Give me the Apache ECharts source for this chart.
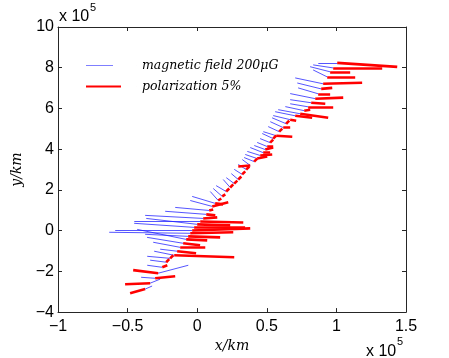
<!DOCTYPE html>
<html>
<head>
<meta charset="utf-8">
<script src="https://cdn.jsdelivr.net/npm/echarts@6/dist/echarts.min.js"></script>
<style>
  html, body { margin: 0; padding: 0; background: #fff; }
  #chart { width: 449px; height: 358px; }
</style>
</head>
<body>
<div id="chart"></div>
<script>
// sample points along the path (x, y in units of 1e5 km)
const sampleX = [-0.374, -0.338, -0.302, -0.280, -0.251, -0.223, -0.194, -0.165, -0.144, -0.122,
  -0.101, -0.079, -0.065, -0.050, -0.036, -0.022, 0.000, 0.022, 0.043, 0.065,
  0.086, 0.108, 0.129, 0.151, 0.180, 0.208, 0.237, 0.266, 0.295, 0.323,
  0.352, 0.381, 0.409, 0.431, 0.453, 0.474, 0.489, 0.503, 0.524, 0.546,
  0.568, 0.589, 0.618, 0.639, 0.668, 0.704, 0.740, 0.769, 0.797, 0.819,
  0.848, 0.869, 0.891, 0.905, 0.934, 0.955, 0.977, 1.006]
const sampleY = [-2.87, -2.58, -2.34, -2.09, -1.80, -1.55, -1.36, -1.21, -1.01, -0.82,
  -0.62, -0.43, -0.28, -0.13, 0.01, 0.16, 0.31, 0.45, 0.60, 0.80,
  0.99, 1.19, 1.34, 1.48, 1.68, 1.92, 2.12, 2.31, 2.51, 2.76,
  3.00, 3.20, 3.39, 3.54, 3.69, 3.83, 3.98, 4.13, 4.32, 4.52,
  4.66, 4.86, 5.06, 5.25, 5.45, 5.64, 5.74, 5.89, 6.08, 6.28,
  6.48, 6.72, 6.96, 7.21, 7.55, 7.80, 7.99, 8.24]

// magnetic field vectors (blue)
const fieldU = [0.050, 0.072, -0.101, 0.216, -0.108, -0.115, -0.165, -0.144, -0.122, -0.194,
  -0.259, -0.352, -0.309, -0.582, -0.553, -0.431, -0.366, -0.474, -0.417, -0.295,
  -0.244, -0.158, -0.165, -0.057, -0.065, -0.072, -0.050, -0.057, -0.050, -0.057,
  -0.057, -0.057, -0.072, -0.086, -0.093, -0.093, -0.079, -0.072, -0.072, -0.079,
  -0.093, -0.079, -0.093, -0.101, -0.122, -0.144, -0.158, -0.136, -0.129, -0.151,
  -0.180, -0.144, -0.172, -0.201, -0.101, -0.144, -0.144, -0.136]
const fieldV = [0.15, 0.20, 0.05, 0.39, 0.10, 0.10, 0.10, 0.20, 0.10, 0.25,
  0.29, 0.49, 0.10, 0.05, 0.00, 0.20, 0.29, 0.00, 0.15, 0.15,
  0.15, 0.29, 0.34, 0.44, 0.39, 0.29, 0.39, 0.29, 0.29, 0.25,
  0.25, 0.29, 0.20, 0.20, 0.20, 0.25, 0.20, 0.20, 0.20, 0.25,
  0.20, 0.25, 0.29, 0.29, 0.20, 0.20, 0.20, 0.20, 0.15, 0.15,
  0.25, 0.29, 0.29, 0.29, 0.34, 0.25, 0.15, 0.00]

// polarization vectors (red)
const polU = [-0.108, -0.180, 0.144, -0.180, 0.036, 0.022, 0.022, 0.431, 0.136, 0.180,
  0.122, 0.151, 0.230, 0.309, 0.417, 0.366, 0.237, 0.309, 0.101, 0.065,
  0.029, 0.115, 0.057, 0.022, 0.022, 0.022, 0.022, 0.022, 0.022, 0.022,
  0.022, -0.086, 0.022, 0.072, 0.086, 0.050, 0.057, 0.043, 0.022, 0.022,
  0.115, 0.022, 0.050, 0.022, 0.043, 0.122, 0.201, 0.043, 0.180, 0.101,
  0.201, 0.086, 0.079, 0.280, 0.201, 0.144, 0.352, 0.431]
const polV = [-0.20, -0.05, 0.10, 0.15, 0.10, 0.15, 0.15, -0.10, -0.10, 0.00,
  -0.10, -0.05, -0.05, 0.05, 0.10, 0.00, -0.05, -0.05, 0.05, -0.05,
  0.05, 0.20, -0.05, 0.10, 0.10, 0.15, 0.15, 0.15, 0.15, 0.15,
  0.15, -0.05, 0.15, 0.10, 0.05, 0.00, 0.10, 0.00, 0.15, 0.15,
  -0.05, 0.15, 0.00, 0.15, -0.05, -0.10, -0.20, 0.05, 0.00, -0.05,
  0.05, 0.00, 0.05, 0.05, 0.00, 0.00, 0.00, -0.20]

const xTicks = ['−1', '−0.5', '0', '0.5', '1', '1.5']
const yTicks = ['−4', '−2', '0', '2', '4', '6', '8', '10']
const seriesNames = ['magnetic field 200μG', 'polarization 5%']

const fieldSegs = sampleX.map((x, i) => ({
  coords: [[x, sampleY[i]], [x + fieldU[i], sampleY[i] + fieldV[i]]],
}))
const polSegs = sampleX.map((x, i) => ({
  coords: [[x, sampleY[i]], [x + polU[i], sampleY[i] + polV[i]]],
}))

const axisColor = '#262626'
const serifItalic = { fontFamily: 'DejaVu Serif', fontStyle: 'italic', color: '#000' }

function boxAxis(extra) {
  return Object.assign({
    type: 'value',
    axisLine: { show: true, onZero: false, lineStyle: { color: axisColor, width: 1 } },
    axisTick: { show: true, inside: true, length: 4, lineStyle: { color: axisColor } },
    splitLine: { show: false },
  }, extra)
}

const chart = echarts.init(document.getElementById('chart'))

chart.setOption({
  animation: false,
  backgroundColor: '#fff',
  grid: { left: 58, right: 43, top: 27, bottom: 45 },
  legend: [
    {
      data: [{ name: seriesNames[0], icon: 'path://M0,0H27V1H0Z M51,0H51.01V1H51Z', itemStyle: { color: '#7f7fff', borderWidth: 0 } }],
      left: 86, top: 59, padding: 0, itemWidth: 51, itemHeight: 1, selectedMode: false,
      textStyle: Object.assign({ fontSize: 12.5 }, serifItalic),
    },
    {
      data: [{ name: seriesNames[1], icon: 'path://M0,0H35V2H0Z M51,0H51.01V2H51Z', itemStyle: { color: '#ff0000', borderWidth: 0 } }],
      left: 86, top: 80, padding: 0, itemWidth: 51, itemHeight: 2, selectedMode: false,
      textStyle: Object.assign({ fontSize: 12.5 }, serifItalic),
    },
  ],
  xAxis: [
    boxAxis({
      min: -1, max: 1.5, interval: 0.5, position: 'bottom',
      name: 'x/km', nameLocation: 'middle', nameGap: 24,
      nameTextStyle: Object.assign({ fontSize: 14 }, serifItalic),
      axisLabel: {
        formatter: (v) => xTicks[Math.round((v + 1) / 0.5)],
        fontFamily: 'Liberation Sans', fontSize: 16, color: '#000', margin: 6,
      },
    }),
    boxAxis({ min: -1, max: 1.5, interval: 0.5, position: 'top', axisLabel: { show: false } }),
  ],
  yAxis: [
    boxAxis({
      min: -4, max: 10, interval: 2, position: 'left',
      name: 'y/km', nameLocation: 'middle', nameGap: 21,
      nameTextStyle: Object.assign({ fontSize: 14 }, serifItalic),
      axisLabel: {
        formatter: (v) => yTicks[Math.round((v + 4) / 2)],
        fontFamily: 'Liberation Sans', fontSize: 16, color: '#000', margin: 4,
      },
    }),
    boxAxis({ min: -4, max: 10, interval: 2, position: 'right', axisLabel: { show: false } }),
  ],
  graphic: [
    { type: 'text', left: 59, top: 9, style: { text: 'x 10', font: '16px "Liberation Sans"', fill: '#000' } },
    { type: 'text', left: 90, top: 2, style: { text: '5', font: '11px "Liberation Sans"', fill: '#000' } },
    { type: 'text', left: 366, top: 344, style: { text: 'x 10', font: '16px "Liberation Sans"', fill: '#000' } },
    { type: 'text', left: 397, top: 336, style: { text: '5', font: '11px "Liberation Sans"', fill: '#000' } },
  ],
  series: [
    {
      name: seriesNames[0],
      type: 'lines',
      coordinateSystem: 'cartesian2d',
      xAxisIndex: 0, yAxisIndex: 0,
      silent: true,
      data: fieldSegs,
      lineStyle: { color: '#1f1fff', width: 0.9, opacity: 0.85 },
      z: 2,
    },
    {
      name: seriesNames[1],
      type: 'lines',
      coordinateSystem: 'cartesian2d',
      xAxisIndex: 0, yAxisIndex: 0,
      silent: true,
      data: polSegs,
      lineStyle: { color: '#ff0000', width: 2.6, opacity: 1 },
      z: 3,
    },
  ],
})
</script>
</body>
</html>
